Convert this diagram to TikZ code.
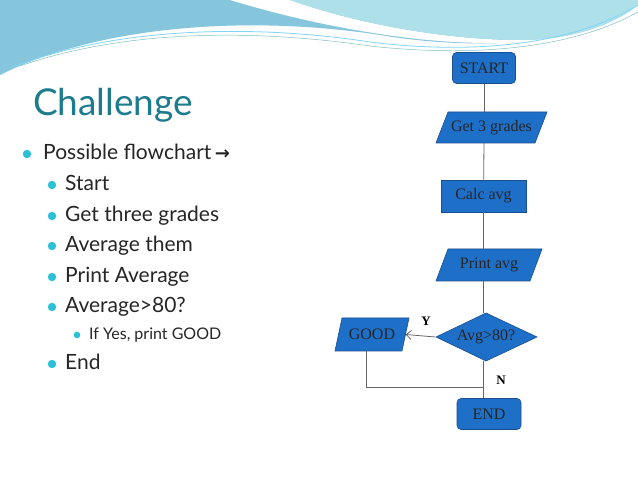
\documentclass[tikz,border=0pt]{standalone}
\usepackage{fontspec}
\setmainfont{Lato}
\newfontfamily\fcfont{Liberation Serif}
\usetikzlibrary{arrows.meta}
\definecolor{fcblue}{HTML}{1E6FC8}
\definecolor{fcedge}{HTML}{1A4F8F}
\definecolor{titlec}{HTML}{1C7C8E}
\definecolor{bul}{HTML}{2CC0D6}
\definecolor{wavea}{HTML}{86C6DC}
\definecolor{waveb}{HTML}{AEE0EA}
\tikzset{
 x=1pt,y=-1pt,
 box/.style={text=black!85,font=\fcfont\fontsize{16}{18}\selectfont,inner sep=0pt},
 shapefill/.style={draw=fcedge,fill=fcblue,line width=0.6pt},
 term/.style={box,draw=fcedge,fill=fcblue,line width=0.6pt,rounded corners=4pt,minimum width=63pt,minimum height=31pt},
 conn/.style={draw=gray!80!black,line width=0.8pt},
 l1/.style={anchor=base west,font=\fontsize{21}{24}\selectfont,text=black!85,inner sep=0pt},
 l2/.style={anchor=base west,font=\fontsize{16}{19}\selectfont,text=black!85,inner sep=0pt},
}
% \para{name}{cx}{cy}{w}{h}{slant}{text}
\newcommand\para[7]{%
 \path[shapefill] (#2-#4/2,#3+#5/2) -- (#2-#4/2+#6,#3-#5/2) -- (#2+#4/2,#3-#5/2) -- (#2+#4/2-#6,#3+#5/2) -- cycle;
 \node[box,minimum width=#4-#6,minimum height=#5] (#1) at (#2,#3) {#7};}
\begin{document}
\begin{tikzpicture}
\useasboundingbox (0,0) rectangle (638,478);
\fill[white] (0,0) rectangle (638,478);
% top waves
\fill[wavea] (0,0) -- (638,0) -- (638,20) .. controls (560,45) and (470,50) .. (380,35) .. controls (250,15) and (100,25) .. (0,75) -- cycle;
\fill[white] (230,0) -- (290,0) .. controls (360,25) and (450,40) .. (520,40) .. controls (580,40) and (620,20) .. (638,5) -- (638,22) .. controls (560,47) and (470,48) .. (380,34) .. controls (320,25) and (270,12) .. (230,0);
\fill[waveb] (290,0) -- (638,0) -- (638,5) .. controls (620,20) and (580,40) .. (520,40) .. controls (450,40) and (360,25) .. (290,0);
\draw[cyan!50,line width=0.8pt] (10,68) .. controls (120,25) and (260,25) .. (370,42) .. controls (450,52) and (560,52) .. (638,5);
\draw[teal!50,line width=0.5pt] (20,66) .. controls (130,28) and (260,30) .. (370,46) .. controls (450,55) and (560,55) .. (638,12);
% left text
\node[anchor=base west,font=\fontsize{37}{40}\selectfont,text=titlec,inner sep=0pt] (title) at (33,116) {Challenge};
\fill[bul] (27,154) circle (4.2);
\node[l1] (t1) at (43,160) {Possible flowchart\,{\fontspec{DejaVu Sans}\fontsize{18}{20}\selectfont\textbf{→}}};
\node[l1] (t2) at (65,191) {Start};
\node[l1] (t3) at (65,222) {Get three grades};
\node[l1] (t4) at (65,252) {Average them};
\node[l1] (t5) at (65,283) {Print Average};
\node[l1] (t6) at (65,313) {Average>80?};
\node[l2] (t7) at (89,340) {If Yes, print GOOD};
\node[l1] (t8) at (65,370) {End};
\foreach \y in {191,222,252,283,313,370}{\fill[bul] (52,\y-6) circle (4.2);}
\fill[bul] (77,335) circle (3.3);
% flowchart
\node[term] (start) at (484,68) {START};
\para{get}{491.5}{127.5}{111}{31}{12}{Get 3 grades}
\node[box,draw=fcedge,fill=fcblue,line width=0.6pt,minimum width=85pt,minimum height=32pt] (calc) at (483.5,196) {Calc avg};
\para{print}{489}{265}{106}{32}{12}{Print avg}
\path[shapefill] (436,337) -- (486,313) -- (537,337) -- (486,361) -- cycle;
\node[box,minimum width=101pt,minimum height=48pt] (avg) at (486,337) {Avg>80?};
\para{good}{372}{334.5}{74}{33}{7}{GOOD}
\node[term,minimum width=64pt] (end) at (489,414) {END};
\coordinate (j) at (483,387);
\draw[conn] (start) -- (get.north -| start);
\draw[conn] (get.south -| start) -- (calc);
\draw[conn] (calc) -- (print.north -| calc);
\draw[conn] (print.south -| calc) -- (avg.north -| calc);
\draw[conn,-{Straight Barb[length=5pt,width=9pt]}] (avg.west) -- (good.east);
\draw[conn] (avg.south -| calc) -- (end.north -| calc);
\draw[conn] (good.south -| 366,0) |- (j);
\node[font=\fcfont\bfseries\fontsize{13}{15}\selectfont] (ylab) at (426,321) {Y};
\node[font=\fcfont\bfseries\fontsize{13}{15}\selectfont] (nlab) at (501,380) {N};
\end{tikzpicture}
\end{document}
